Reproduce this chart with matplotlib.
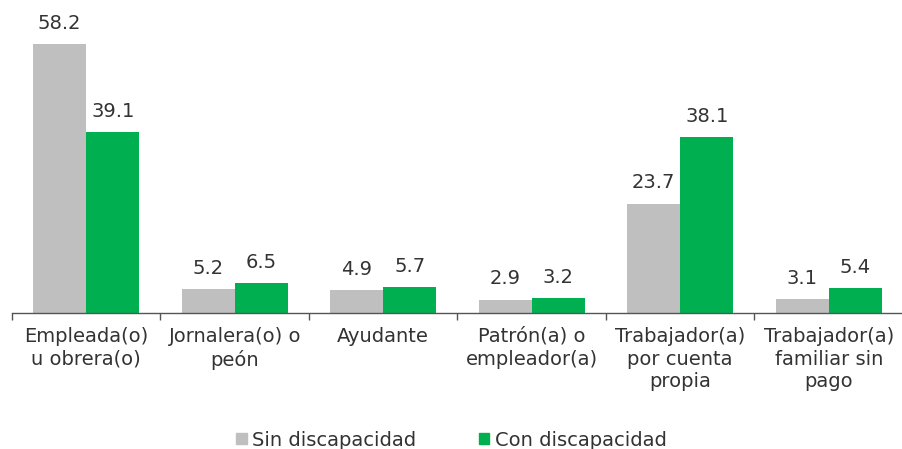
import matplotlib
matplotlib.use("Agg")
import matplotlib.pyplot as plt
import numpy as np
from matplotlib.patches import Patch

# Datos del gráfico (porcentajes)
CATEGORIES = [
    "Empleada(o)\nu obrera(o)",
    "Jornalera(o) o\npeón",
    "Ayudante",
    "Patrón(a) o\nempleador(a)",
    "Trabajador(a)\npor cuenta\npropia",
    "Trabajador(a)\nfamiliar sin\npago",
]
SIN_DISCAPACIDAD = [58.2, 5.2, 4.9, 2.9, 23.7, 3.1]
CON_DISCAPACIDAD = [39.1, 6.5, 5.7, 3.2, 38.1, 5.4]
SERIES_NAMES = ["Sin discapacidad", "Con discapacidad"]

GRAY = "#BFBFBF"
GREEN = "#00B050"
TEXT = "#333333"

plt.rcParams["font.family"] = ["DejaVu Sans"]

W, H = 903, 449
fig = plt.figure(figsize=(W / 100, H / 100), dpi=100)
ax = fig.add_axes([12 / W, (H - 313) / H, (W - 12) / W, 313 / H])

x = np.arange(len(CATEGORIES))
width = 0.357
bars_sin = ax.bar(x - width / 2, SIN_DISCAPACIDAD, width, color=GRAY)
bars_con = ax.bar(x + width / 2, CON_DISCAPACIDAD, width, color=GREEN)

for bars in (bars_sin, bars_con):
    for bar in bars:
        ax.annotate(
            f"{bar.get_height():.1f}",
            (bar.get_x() + bar.get_width() / 2, bar.get_height()),
            xytext=(0, 8),
            textcoords="offset points",
            ha="center",
            va="bottom",
            fontsize=14,
            color=TEXT,
        )

ax.set_xlim(-0.5, len(CATEGORIES) - 0.5)
ax.set_ylim(0, 313 / 4.62)

# Marcas en los límites de cada categoría, etiquetas centradas
ax.set_xticks(np.arange(len(CATEGORIES) + 1) - 0.5)
ax.set_xticklabels([])
ax.set_xticks(x, minor=True)
ax.set_xticklabels(CATEGORIES, minor=True, fontsize=14, color=TEXT, linespacing=1.25)
ax.tick_params(axis="x", which="major", length=5, width=1, color="#555555", direction="out")
ax.tick_params(axis="x", which="minor", length=0, pad=10)
ax.set_yticks([])
for side in ("top", "right", "left"):
    ax.spines[side].set_visible(False)
ax.spines["bottom"].set_color("#555555")
ax.spines["bottom"].set_linewidth(1)

handles = [Patch(color=GRAY), Patch(color=GREEN)]
fig.legend(
    handles,
    SERIES_NAMES,
    loc="center",
    bbox_to_anchor=(0.5, (H - 440) / H),
    ncol=2,
    frameon=False,
    fontsize=14,
    handlelength=0.55,
    handleheight=0.55,
    handletextpad=0.3,
    columnspacing=3.2,
    labelcolor=TEXT,
)

fig.savefig("out.png", dpi=100)
